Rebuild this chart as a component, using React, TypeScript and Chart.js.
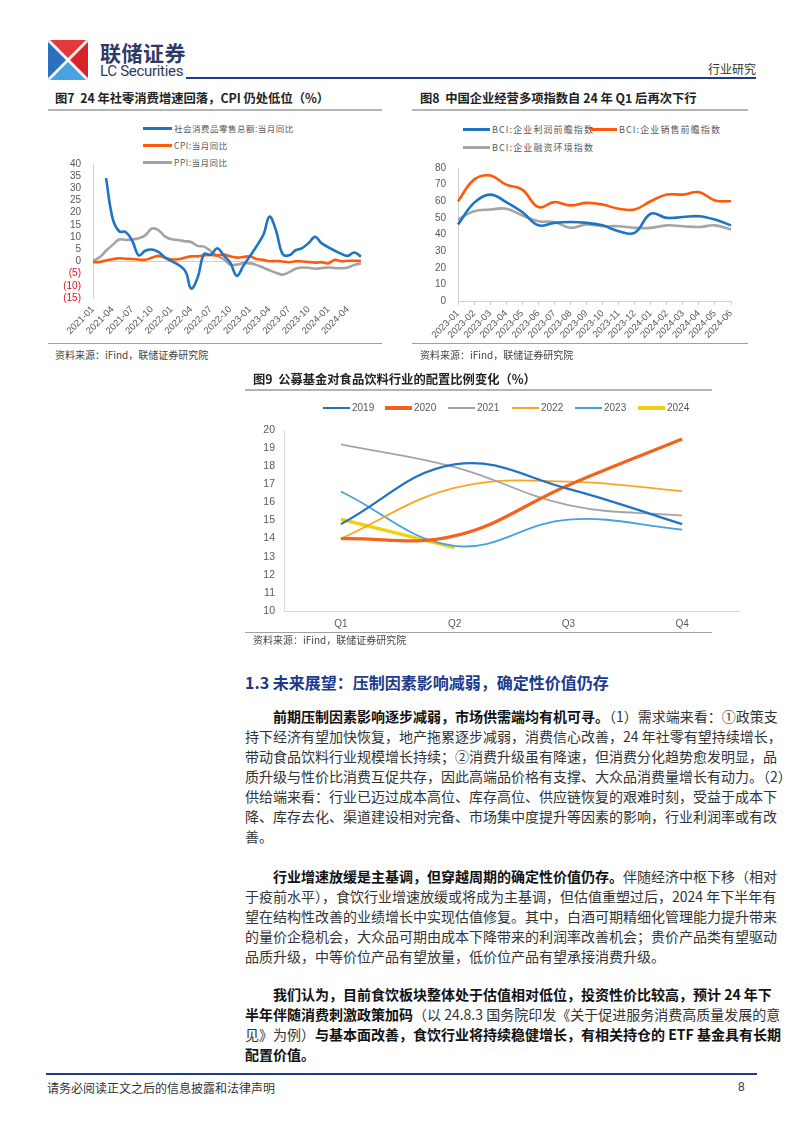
import React, { useEffect, useRef } from "react";
import { Chart, registerables } from "chart.js";

Chart.register(...registerables);
Chart.defaults.font.family = '"Liberation Sans", Arial, sans-serif';

// ---------- Figure 7 data ----------
const months7 = [
  "2021-01","2021-02","2021-03","2021-04","2021-05","2021-06","2021-07","2021-08","2021-09","2021-10","2021-11","2021-12",
  "2022-01","2022-02","2022-03","2022-04","2022-05","2022-06","2022-07","2022-08","2022-09","2022-10","2022-11","2022-12",
  "2023-01","2023-02","2023-03","2023-04","2023-05","2023-06","2023-07","2023-08","2023-09","2023-10","2023-11","2023-12",
  "2024-01","2024-02","2024-03","2024-04","2024-05","2024-06",
];
const retailSales = [
  null, null, 34.2, 17.7, 12.4, 12.1, 8.5, 2.5, 4.4, 4.9, 3.9, 1.7,
  null, null, -3.5, -11.1, -6.7, 3.1, 2.7, 5.4, 2.5, -0.5, -5.9, -1.8,
  null, null, 10.6, 18.4, 12.7, 3.1, 2.5, 4.6, 5.5, 7.6, 10.1, 7.4,
  null, null, 3.1, 2.3, 3.7, 2.0,
];
const cpi7 = [
  -0.3, -0.2, 0.4, 0.9, 1.3, 1.1, 1.0, 0.8, 0.7, 1.5, 2.3, 1.5,
  0.9, 0.9, 1.5, 2.1, 2.1, 2.5, 2.7, 2.5, 2.8, 2.1, 1.6, 1.8,
  2.1, 1.0, 0.7, 0.1, 0.2, 0.0, -0.3, 0.1, 0.0, -0.2, -0.5, -0.3,
  -0.8, 0.7, 0.1, 0.3, 0.3, 0.2,
];
const ppi7 = [
  0.3, 1.7, 4.4, 6.8, 9.0, 8.8, 9.0, 9.5, 10.7, 13.5, 12.9, 10.3,
  9.1, 8.8, 8.3, 8.0, 6.4, 6.1, 4.2, 2.3, 0.9, -1.3, -1.3, -0.7,
  -0.8, -1.4, -2.5, -3.6, -4.6, -5.4, -4.4, -3.0, -2.5, -2.6, -3.0, -2.7,
  -2.5, -2.7, -2.8, -2.5, -1.4, -0.8,
];
const names7 = ["社会消费品零售总额:当月同比", "CPI:当月同比", "PPI:当月同比"];
const colors7 = ["#1F74C4", "#FF5A0A", "#A3A3A3"];

// ---------- Figure 8 data ----------
const months8 = [
  "2023-01","2023-02","2023-03","2023-04","2023-05","2023-06","2023-07","2023-08","2023-09",
  "2023-10","2023-11","2023-12","2024-01","2024-02","2024-03","2024-04","2024-05","2024-06",
];
const bciProfit = [46, 59, 64, 59.5, 53.5, 45.5, 47, 47.5, 47, 45.5, 42, 41, 52.5, 50, 50.5, 51, 49, 45.5];
const bciSales = [60, 73, 75.5, 70, 67, 56.5, 59.5, 57.5, 59, 58, 55.5, 55, 60, 64, 64, 65.5, 60.5, 60];
const bciFinance = [49, 54, 55, 55.5, 51.5, 48, 47.5, 44, 46, 45, 45, 44, 44, 45.5, 45, 44.5, 45.5, 43];
const names8 = ["BCI:企业利润前瞻指数", "BCI:企业销售前瞻指数", "BCI:企业融资环境指数"];
const colors8 = ["#1F74C4", "#FF5A0A", "#A5A5A5"];

// ---------- Figure 9 data ----------
const quarters = ["Q1", "Q2", "Q3", "Q4"];
const years9 = ["2019", "2020", "2021", "2022", "2023", "2024"];
const alloc2019 = [14.8, 18.1, 16.75, 14.8];
const alloc2020 = [14.0, 14.15, 16.95, 19.5];
const alloc2021 = [19.2, 17.95, 15.85, 15.27];
const alloc2022 = [14.0, 16.8, 17.15, 16.62];
const alloc2023 = [16.6, 13.6, 15.05, 14.5];
const alloc2024 = [15.07, 13.5];
const colors9 = ["#2272C3", "#F4621F", "#A5A5A5", "#FFA323", "#47A1DA", "#F0D014"];
const widths9 = [2.2, 3.2, 1.8, 1.8, 1.8, 3.4];

const TRANSPARENT = "rgba(0,0,0,0)";

function ChartCanvas({ left, top, width, height, make }) {
  const ref = useRef(null);
  useEffect(() => {
    const chart = new Chart(ref.current, make());
    return () => chart.destroy();
  }, []);
  return (
    <canvas
      ref={ref}
      width={width}
      height={height}
      style={{ position: "absolute", left, top, width, height }}
    />
  );
}

const lineDs = (label, data, color, width, extra = {}) => ({
  label,
  data,
  borderColor: color,
  backgroundColor: color,
  borderWidth: width,
  pointRadius: 0,
  tension: 0.4,
  fill: false,
  ...extra,
});

const make7 = () => ({
  type: "line",
  data: {
    labels: months7,
    datasets: [
      lineDs(names7[0], retailSales, colors7[0], 2.6, { spanGaps: true }),
      lineDs(names7[1], cpi7, colors7[1], 2.6),
      lineDs(names7[2], ppi7, colors7[2], 2.6),
    ],
  },
  options: {
    responsive: false,
    animation: false,
    events: [],
    layout: { padding: { top: 10, right: 10, left: 0, bottom: 0 } },
    plugins: { legend: { display: false }, tooltip: { enabled: false } },
    scales: {
      x: {
        grid: { display: false, drawTicks: false },
        border: { display: false },
        ticks: {
          autoSkip: false,
          minRotation: 45,
          maxRotation: 45,
          padding: 6,
          color: "#595959",
          font: { size: 9.5 },
          callback: (v, i) => (i % 3 === 0 ? months7[i] : ""),
        },
        afterFit: (s) => { s.height = 42; },
      },
      y: {
        min: -15,
        max: 40,
        ticks: {
          stepSize: 5,
          autoSkip: false,
          padding: 2,
          font: { size: 10 },
          color: (ctx) => (ctx.tick && ctx.tick.value < 0 ? "#E8101C" : "#595959"),
          callback: (v) => (v < 0 ? `(${-v})` : `${v}`),
        },
        grid: {
          drawTicks: true,
          tickLength: 10,
          tickColor: TRANSPARENT,
          color: (ctx) => (ctx.tick && ctx.tick.value === 0 ? "#D0D0D0" : TRANSPARENT),
        },
        border: { display: true, color: "#D0D0D0" },
        afterFit: (s) => { s.width = 43; },
      },
    },
  },
});

const make8 = () => ({
  type: "line",
  data: {
    labels: months8,
    datasets: [
      lineDs(names8[0], bciProfit, colors8[0], 2.6),
      lineDs(names8[1], bciSales, colors8[1], 2.6),
      lineDs(names8[2], bciFinance, colors8[2], 2.6),
    ],
  },
  options: {
    responsive: false,
    animation: false,
    events: [],
    layout: { padding: { top: 10, right: 12, left: 0, bottom: 0 } },
    plugins: { legend: { display: false }, tooltip: { enabled: false } },
    scales: {
      x: {
        grid: { display: true, drawOnChartArea: false, drawTicks: true, tickLength: 4, color: "#D0D0D0" },
        border: { display: true, color: "#D0D0D0" },
        ticks: {
          autoSkip: false,
          minRotation: 45,
          maxRotation: 45,
          padding: 3,
          color: "#595959",
          font: { size: 9.5 },
        },
        afterFit: (s) => { s.height = 43; },
      },
      y: {
        min: 0,
        max: 80,
        ticks: { stepSize: 10, autoSkip: false, padding: 2, font: { size: 10 }, color: "#595959" },
        grid: { display: true, drawOnChartArea: false, drawTicks: true, tickLength: 10, tickColor: TRANSPARENT, color: TRANSPARENT },
        border: { display: true, color: "#D0D0D0" },
        afterFit: (s) => { s.width = 45; },
      },
    },
  },
});

const data9 = [alloc2019, alloc2020, alloc2021, alloc2022, alloc2023, alloc2024];
const make9 = () => ({
  type: "line",
  data: {
    labels: quarters,
    datasets: years9.map((y, i) => lineDs(y, data9[i], colors9[i], widths9[i])),
  },
  options: {
    responsive: false,
    animation: false,
    events: [],
    layout: { padding: { top: 10, right: 6, left: 0, bottom: 0 } },
    plugins: { legend: { display: false }, tooltip: { enabled: false } },
    scales: {
      x: {
        offset: true,
        grid: { display: false, drawTicks: false },
        border: { display: true, color: "#D9D9D9" },
        ticks: { padding: 7, color: "#595959", font: { size: 10 } },
        afterFit: (s) => { s.height = 23; },
      },
      y: {
        min: 10,
        max: 20,
        ticks: { stepSize: 1, autoSkip: false, padding: 2, font: { size: 10.5 }, color: "#595959" },
        grid: { display: true, drawOnChartArea: false, drawTicks: true, tickLength: 7, tickColor: TRANSPARENT, color: TRANSPARENT },
        border: { display: true, color: "#D9D9D9" },
        afterFit: (s) => { s.width = 44; },
      },
    },
  },
});

// ---------- text helpers ----------
const CJK = '"Noto Sans CJK SC", "Noto Sans", sans-serif';

function T({ x, y, size, weight = 400, color = "#333", family = CJK, ls = 0, children }) {
  const lh = Math.round(size * 1.4);
  return (
    <div
      style={{
        position: "absolute",
        left: x,
        top: y - lh / 2,
        fontSize: size,
        lineHeight: `${lh}px`,
        fontWeight: weight,
        color,
        fontFamily: family,
        letterSpacing: ls,
        whiteSpace: "nowrap",
      }}
    >
      {children}
    </div>
  );
}

function HLine({ x, y, w, h = 1, color }) {
  return <div style={{ position: "absolute", left: x, top: y, width: w, height: h, background: color }} />;
}

function LegendItem({ x, y, color, thick, text, size, ls = 0, family = CJK, lineW = 29 }) {
  return (
    <>
      <div style={{ position: "absolute", left: x, top: y - thick / 2, width: lineW, height: thick, background: color }} />
      <T x={x + lineW + 2} y={y} size={size} color="#595959" ls={ls} family={family}>{text}</T>
    </>
  );
}

const para1 = [
  [["前期压制因素影响逐步减弱，市场供需端均有机可寻。", true], ["（1）需求端来看：①政策支", false]],
  [["持下经济有望加快恢复，地产拖累逐步减弱，消费信心改善，24 年社零有望持续增长，", false]],
  [["带动食品饮料行业规模增长持续；②消费升级虽有降速，但消费分化趋势愈发明显，品", false]],
  [["质升级与性价比消费互促共存，因此高端品价格有支撑、大众品消费量增长有动力。（2）", false]],
  [["供给端来看：行业已迈过成本高位、库存高位、供应链恢复的艰难时刻，受益于成本下", false]],
  [["降、库存去化、渠道建设相对完备、市场集中度提升等因素的影响，行业利润率或有改", false]],
  [["善。", false]],
];
const para2 = [
  [["行业增速放缓是主基调，但穿越周期的确定性价值仍存。", true], ["伴随经济中枢下移（相对", false]],
  [["于疫前水平），食饮行业增速放缓或将成为主基调，但估值重塑过后，2024 年下半年有", false]],
  [["望在结构性改善的业绩增长中实现估值修复。其中，白酒可期精细化管理能力提升带来", false]],
  [["的量价企稳机会，大众品可期由成本下降带来的利润率改善机会；贵价产品类有望驱动", false]],
  [["品质升级，中等价位产品有望放量，低价位产品有望承接消费升级。", false]],
];
const para3 = [
  [["我们认为，目前食饮板块整体处于估值相对低位，投资性价比较高，预计 24 年下", true]],
  [["半年伴随消费刺激政策加码", true], ["（以 24.8.3 国务院印发《关于促进服务消费高质量发展的意", false]],
  [["见》为例）", false], ["与基本面改善，食饮行业将持续稳健增长，有相关持仓的 ETF 基金具有长期", true]],
  [["配置价值。", true]],
];

function Paragraph({ lines, y0, lh }) {
  return (
    <>
      {lines.map((segs, i) => {
        const first = i === 0;
        const last = i === lines.length - 1;
        const left = first ? 273 : 245;
        const width = first ? 486 : 514;
        return (
          <div
            key={i}
            style={{
              position: "absolute",
              left,
              top: y0 + i * lh - 10,
              width,
              height: 20,
              lineHeight: "20px",
              fontSize: 14,
              fontFamily: CJK,
              whiteSpace: "nowrap",
              textAlign: last ? "left" : "justify",
              textAlignLast: last ? "left" : "justify",
              color: "#333",
            }}
          >
            {segs.map((s, j) => (
              <span key={j} style={{ fontWeight: s[1] ? 700 : 400, color: s[1] ? "#111" : "#333" }}>{s[0]}</span>
            ))}
          </div>
        );
      })}
    </>
  );
}

function Logo() {
  return (
    <svg width="40" height="40" viewBox="0 0 40 40" style={{ position: "absolute", left: 48, top: 40 }}>
      <defs>
        <clipPath id="lgclip"><rect x="0" y="0" width="40" height="40" rx="3" /></clipPath>
      </defs>
      <g clipPath="url(#lgclip)">
        <polygon points="0,0 40,0 20,20" fill="#E33B3E" />
        <polygon points="40,0 40,40 20,20" fill="#D8262C" />
        <polygon points="0,0 0,40 20,20" fill="#2F6FC1" />
        <polygon points="0,40 40,40 20,20" fill="#4BA3E2" />
        <line x1="0" y1="0" x2="40" y2="40" stroke="#fff" strokeWidth="3" opacity="0.9" />
        <line x1="40" y1="0" x2="0" y2="40" stroke="#fff" strokeWidth="3" opacity="0.9" />
      </g>
    </svg>
  );
}

export default function App() {
  return (
    <div
      style={{
        position: "absolute",
        left: 0,
        top: 0,
        width: 802,
        height: 1133,
        background: "#fff",
        overflow: "hidden",
        fontFamily: CJK,
      }}
    >
      {/* Header */}
      <Logo />
      <T x={100} y={52} size={21} weight={700} color="#2E3A66" ls={0.5}>联储证券</T>
      <T x={100} y={71} size={15} color="#2E3A66" family='Roboto, "Liberation Sans", sans-serif' ls={-0.3}>LC Securities</T>
      <HLine x={186} y={77} w={570} h={2} color="#1F3C88" />
      <T x={708} y={68} size={12} color="#333">行业研究</T>

      {/* Figure 7 */}
      <T x={55} y={98} size={12.3} weight={700} color="#222">图7&nbsp;&nbsp;24 年社零消费增速回落，CPI 仍处低位（%）</T>
      <HLine x={48} y={109} w={334} h={2} color="#B4B4B4" />
      <LegendItem x={143} y={128} color={colors7[0]} thick={3} text={names7[0]} size={8.5} ls={0.5} />
      <LegendItem x={143} y={145} color={colors7[1]} thick={3} text={names7[1]} size={8.5} ls={0.5} />
      <LegendItem x={143} y={162} color={colors7[2]} thick={3} text={names7[2]} size={8.5} ls={0.5} />
      <ChartCanvas left={50} top={154} width={325} height={186} make={make7} />
      <HLine x={48} y={343} w={334} h={1} color="#A0A0A0" />
      <T x={55} y={355} size={10} color="#444">资料来源：iFind，联储证券研究院</T>

      {/* Figure 8 */}
      <T x={420} y={98} size={12.3} weight={700} color="#222">图8&nbsp;&nbsp;中国企业经营多项指数自 24 年 Q1 后再次下行</T>
      <HLine x={412} y={109} w={336} h={2} color="#B4B4B4" />
      <LegendItem x={463} y={129} color={colors8[0]} thick={3} text={names8[0]} size={9} ls={1.1} lineW={27} />
      <LegendItem x={590} y={129} color={colors8[1]} thick={3} text={names8[1]} size={9} ls={1.1} lineW={27} />
      <LegendItem x={463} y={147} color={colors8[2]} thick={3} text={names8[2]} size={9} ls={1.1} lineW={27} />
      <ChartCanvas left={413} top={158} width={330} height={186} make={make8} />
      <HLine x={412} y={343} w={336} h={1} color="#A0A0A0" />
      <T x={420} y={355} size={10} color="#444">资料来源：iFind，联储证券研究院</T>

      {/* Figure 9 */}
      <T x={253} y={379} size={12.3} weight={700} color="#222">图9&nbsp;&nbsp;公募基金对食品饮料行业的配置比例变化（%）</T>
      <HLine x={245} y={389} w={467} h={2} color="#B4B4B4" />
      {years9.map((yr, i) => (
        <LegendItem
          key={yr}
          x={[323, 385, 448, 512, 575, 638][i]}
          y={408}
          color={colors9[i]}
          thick={[2.5, 3.5, 2, 2, 2, 3.5][i]}
          text={yr}
          size={10}
          lineW={27}
          family='"Liberation Sans", Arial, sans-serif'
        />
      ))}
      <ChartCanvas left={240} top={420} width={505} height={214} make={make9} />
      <HLine x={245} y={632} w={467} h={1} color="#A0A0A0" />
      <T x={253} y={640} size={10} color="#444">资料来源：iFind，联储证券研究院</T>

      {/* Section */}
      <T x={245} y={682} size={16} weight={700} color="#1B3A8C">1.3 未来展望：压制因素影响减弱，确定性价值仍存</T>
      <Paragraph lines={para1} y0={716} lh={20} />
      <Paragraph lines={para2} y0={876} lh={20} />
      <Paragraph lines={para3} y0={994} lh={20} />

      {/* Footer */}
      <HLine x={46} y={1073} w={711} h={2} color="#1F3C88" />
      <T x={47} y={1087} size={12} color="#333">请务必阅读正文之后的信息披露和法律声明</T>
      <T x={738} y={1087} size={12} color="#333" family='"Liberation Sans", Arial, sans-serif'>8</T>
    </div>
  );
}
